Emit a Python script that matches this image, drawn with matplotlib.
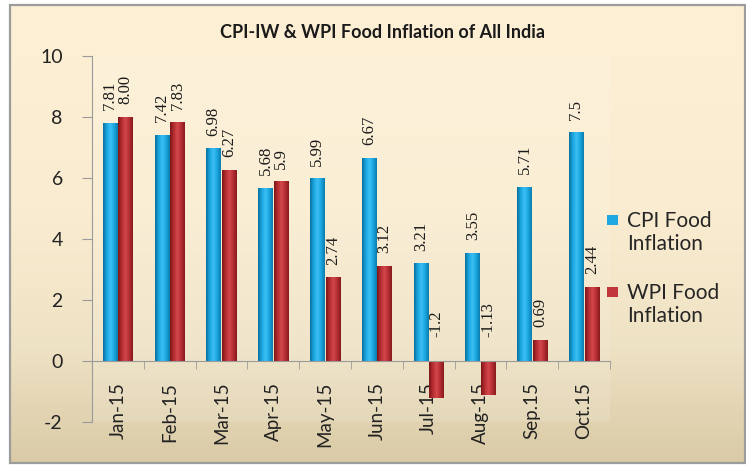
import matplotlib
matplotlib.use("Agg")
import matplotlib.pyplot as plt
import numpy as np
from matplotlib.colors import LinearSegmentedColormap
from matplotlib.patches import Rectangle

plt.rcParams["axes.unicode_minus"] = False
plt.rcParams["font.family"] = "Lato"

# data
months = ["Jan-15", "Feb-15", "Mar-15", "Apr-15", "May-15",
          "Jun-15", "Jul-15", "Aug-15", "Sep.15", "Oct.15"]
cpi = [7.81, 7.42, 6.98, 5.68, 5.99, 6.67, 3.21, 3.55, 5.71, 7.5]
wpi = [8.00, 7.83, 6.27, 5.9, 2.74, 3.12, -1.2, -1.13, 0.69, 2.44]
cpi_text = ["7.81", "7.42", "6.98", "5.68", "5.99", "6.67", "3.21", "3.55", "5.71", "7.5"]
wpi_text = ["8.00", "7.83", "6.27", "5.9", "2.74", "3.12", "-1.2", "-1.13", "0.69", "2.44"]

W, H = 746, 466
fig = plt.figure(figsize=(W / 100, H / 100), dpi=100)
fig.patch.set_facecolor("white")

# background gradient inside the chart frame
bg = fig.add_axes([10 / W, 1 - 463 / H, 735 / W, 458 / H], zorder=-5)
bg_cmap = LinearSegmentedColormap.from_list(
    "bg", [(0, "#fdf0d5"), (0.45, "#faecd0"), (0.75, "#eee2c4"), (1, "#dacaa6")])
bg.imshow(np.linspace(0, 1, 256).reshape(-1, 1), cmap=bg_cmap, aspect="auto",
          extent=[0, 1, 0, 1], origin="upper")
bg.set_xlim(0, 1)
bg.set_ylim(0, 1)
bg.axis("off")
fig.add_artist(Rectangle((10 / W, 1 - 463 / H), 735 / W, 458 / H, transform=fig.transFigure,
                         fill=False, edgecolor="#9c9c9c", linewidth=1.6, zorder=10))

ax = fig.add_axes([92 / W, 1 - 422 / H, 518 / W, 366 / H])
ax.set_facecolor((1, 1, 1, 0.12))

x = np.arange(len(months))
bw = 0.28
off = 0.15
cyan = "#1ea8e2"
red = "#c0363a"
b1 = ax.bar(x - off, cpi, bw, color=cyan, zorder=3)
b2 = ax.bar(x + off, wpi, bw, color=red, zorder=3)

# cylinder-like shading on bars
cyan_cm = LinearSegmentedColormap.from_list("c", ["#0b6f9c", "#1aa6e0", "#3cc0f5", "#1aa6e0", "#0c7cac"])
red_cm = LinearSegmentedColormap.from_list("r", ["#7c1517", "#b52e32", "#d3484b", "#b52e32", "#861a1c"])
grad = np.linspace(0, 1, 64).reshape(1, -1)
for bars, cm in ((b1, cyan_cm), (b2, red_cm)):
    for p in bars:
        x0, y0 = p.get_x(), p.get_y()
        w, h = p.get_width(), p.get_height()
        im = ax.imshow(grad, cmap=cm, aspect="auto", zorder=4,
                       extent=[x0, x0 + w, min(y0, y0 + h), max(y0, y0 + h)])
        im.set_clip_path(p)

# value labels
lab_font = dict(family="Liberation Serif", size=12, color="#1a1a1a")
for i in range(len(months)):
    for xv, v, t in ((x[i] - off, cpi[i], cpi_text[i]), (x[i] + off, wpi[i], wpi_text[i])):
        if v >= 0:
            ax.annotate(t, (xv, v), xytext=(0, 9), textcoords="offset points",
                        rotation=90, ha="center", va="bottom", **lab_font)
        else:
            ax.annotate(t, (xv, 0), xytext=(0, 17), textcoords="offset points",
                        rotation=90, ha="center", va="bottom", **lab_font)

ax.set_xlim(-0.5, 9.5)
ax.set_ylim(-2, 10)
ax.set_yticks([-2, 0, 2, 4, 6, 8, 10])
ax.set_xticks(np.arange(-0.5, 10, 1), minor=True)
ax.set_xticks(x, months)
ax.tick_params(axis="x", which="major", length=0, pad=15, labelrotation=90,
               labelsize=13.5, labelcolor="#222222")
ax.tick_params(axis="x", which="minor", length=6, color="#9a9a9a", direction="out")
ax.tick_params(axis="y", length=7, color="#9a9a9a", pad=14, labelsize=14, labelcolor="#222222")

for s in ("top", "right"):
    ax.spines[s].set_visible(False)
ax.spines["bottom"].set_position(("data", 0))
ax.spines["bottom"].set_color("#9a9a9a")
ax.spines["left"].set_color("#9a9a9a")
ax.spines["bottom"].set_zorder(5)

fig.text(382 / W, 1 - 33 / H, "CPI-IW & WPI Food Inflation of All India", ha="center",
         va="center", weight="bold", fontsize=13, color="#1a1a1a")

# legend
for col, py, txt in ((cyan, 220, "CPI Food\nInflation"), (red, 292, "WPI Food\nInflation")):
    fig.add_artist(Rectangle((607 / W, 1 - (py + 5) / H), 11 / W, 10 / H, transform=fig.transFigure,
                             facecolor=col, edgecolor="none"))
    fig.text(627 / W, 1 - (py - 9) / H, txt, ha="left", va="top",
             fontsize=15, color="#262626", linespacing=1.2)

fig.savefig("out.png", dpi=100)
